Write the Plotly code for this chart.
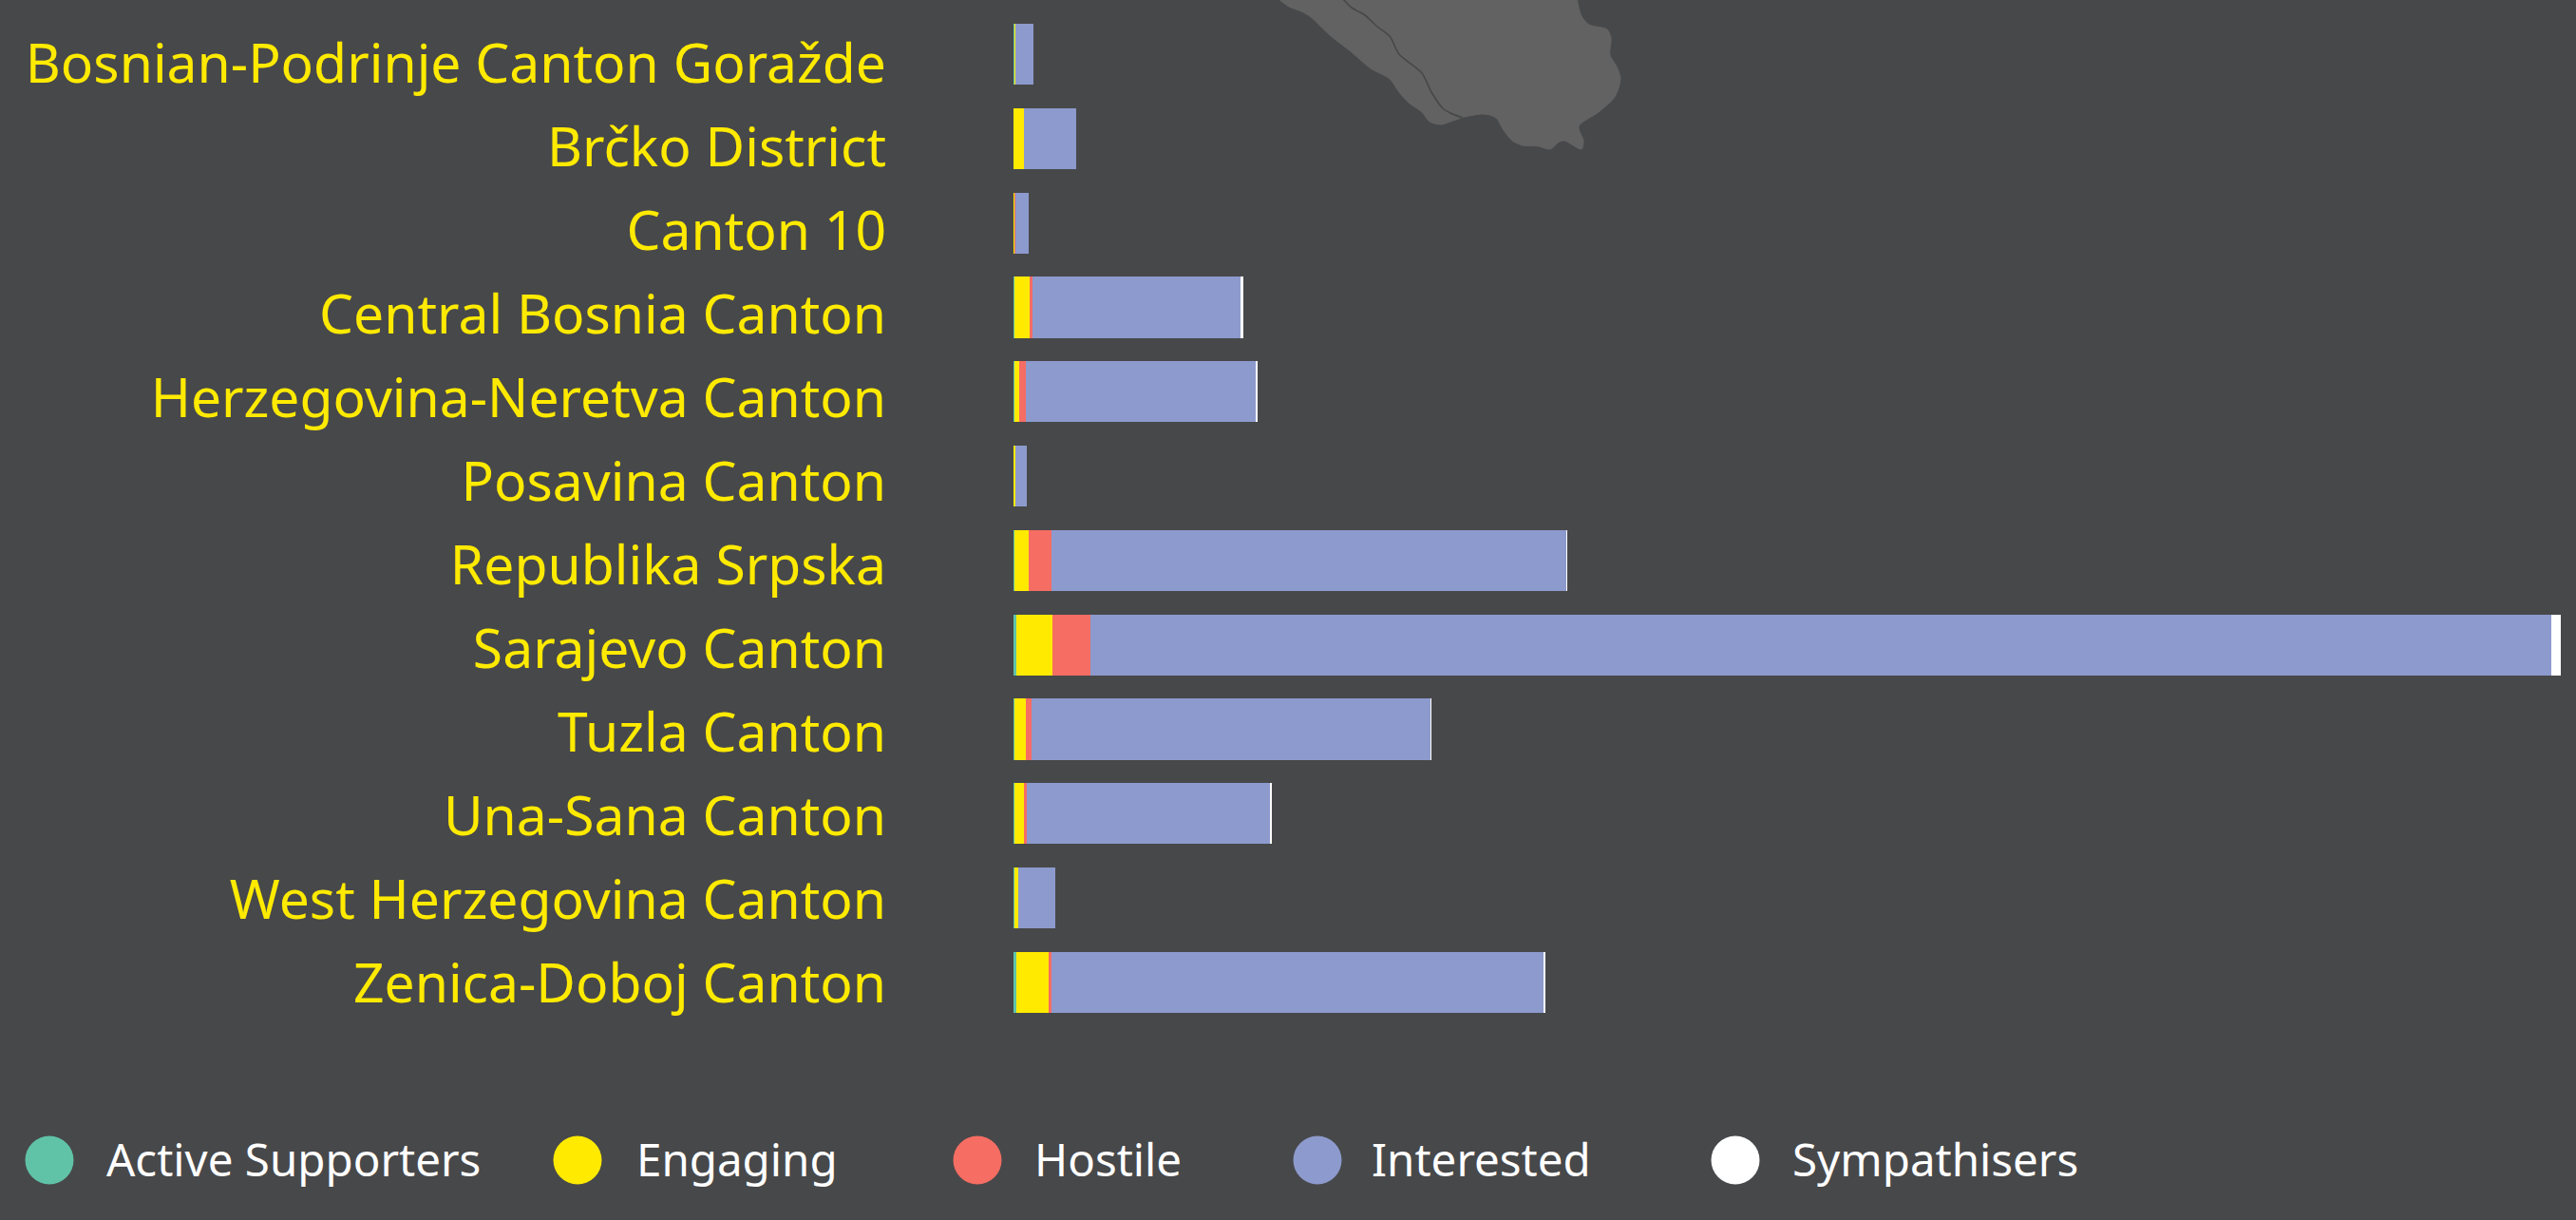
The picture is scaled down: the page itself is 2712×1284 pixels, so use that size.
import plotly.graph_objects as go

BG = "#47484a"
FONT = "Noto Sans"
categories = ["Bosnian-Podrinje Canton Goražde", "Brčko District", "Canton 10", "Central Bosnia Canton",
              "Herzegovina-Neretva Canton", "Posavina Canton", "Republika Srpska", "Sarajevo Canton",
              "Tuzla Canton", "Una-Sana Canton", "West Herzegovina Canton", "Zenica-Doboj Canton"]
active = [1.0, 0.2, 0, 1.0, 0.8, 0, 0.9, 2.5, 1.0, 0.8, 1.0, 2.5]
engaging = [1.0, 10.9, 1.6, 16.2, 5.2, 1.6, 14.9, 38.4, 12.2, 10.1, 4.0, 34.8]
hostile = [0, 0, 0.8, 2.7, 7.2, 0, 24.1, 40.1, 5.3, 3.1, 0, 2.7]
interested = [19.2, 54.8, 13.5, 219.1, 241.8, 12.7, 542.1, 1538, 420.5, 256.0, 38.7, 518.7]
sympathisers = [0, 0, 0, 3.2, 2.0, 0, 1.0, 10.0, 1.0, 2.0, 0, 1.3]

series_names = ["Active Supporters", "Engaging", "Hostile", "Interested", "Sympathisers"]
series_values = [active, engaging, hostile, interested, sympathisers]
series_colors = ["#60c3a8", "#ffea00", "#f56d63", "#8d9acd", "#ffffff"]

legend_marker_x = [52, 608, 1029, 1387, 1827]
legend_text_x = [110, 668, 1087, 1442, 1885]
legend_y = 1219

map_x = [1345, 1357, 1370, 1380, 1400, 1423, 1443, 1463, 1473, 1483, 1497, 1505, 1517, 1530, 1542, 1563, 1575, 1583,
         1592, 1603, 1620, 1632, 1642, 1647, 1665, 1667, 1662, 1683, 1700, 1706, 1702, 1695, 1696, 1692, 1673, 1665, 1660]
map_y = [-2, 7, 12, 18, 37, 55, 72, 83, 97, 108, 118, 128, 131, 127, 123, 120, 124, 137, 148, 153, 154, 157, 149,
         148, 157, 148, 133, 118, 102, 83, 70, 58, 40, 31, 26, 17, -2]
line_x = [1413, 1423, 1437, 1450, 1463, 1473, 1497, 1507, 1520, 1540]
line_y = [-2, 8, 16, 28, 38, 57, 77, 97, 115, 124]

fig = go.Figure()
over = dict(xaxis="x2", yaxis="y2", showlegend=False, hoverinfo="skip")
fig.add_trace(go.Scatter(x=map_x, y=map_y, mode="lines", fill="toself", fillcolor="#626262",
                         line=dict(color="#626262", width=1, shape="spline", smoothing=0.8), **over))
fig.add_trace(go.Scatter(x=line_x, y=line_y, mode="lines",
                         line=dict(color="#47484a", width=1.6, shape="spline", smoothing=0.8), **over))
fig.add_trace(go.Scatter(x=legend_marker_x, y=[legend_y + 2] * 5, mode="markers",
                         marker=dict(size=51, color=series_colors, line_width=0), **over))

for name, vals, col in zip(series_names, series_values, series_colors):
    fig.add_trace(go.Bar(y=categories, x=vals, name=name, orientation="h", marker=dict(color=col, line_width=0),
                         showlegend=False))
# invisible trace that carries the category labels on their own slightly tighter axis
fig.add_trace(go.Bar(y=categories, x=[0] * len(categories), yaxis="y3", showlegend=False, hoverinfo="skip",
                     marker=dict(color="rgba(0,0,0,0)", line_width=0)))

annotations = [dict(x=tx, y=legend_y, xref="x2", yref="y2", text=n, showarrow=False, xanchor="left", yanchor="middle",
                    font=dict(family=FONT, size=47.5, color="#ffffff"))
               for tx, n in zip(legend_text_x, series_names)]

fig.update_layout(
    width=2712, height=1284, autosize=False, barmode="stack", bargap=0.277,
    paper_bgcolor=BG, plot_bgcolor="rgba(0,0,0,0)", margin=dict(l=0, r=0, t=0, b=0),
    annotations=annotations, font_family=FONT,
    xaxis=dict(domain=[1067 / 2712, 1], range=[0, 1645], visible=False, fixedrange=True),
    yaxis=dict(domain=[1 - 1078.4 / 1284, 1 - 12.6 / 1284], range=[11.5, -0.5], type="category", categoryorder="array",
               categoryarray=categories, visible=False),
    yaxis3=dict(domain=[1 - 1079 / 1284, 1 - 23 / 1284], range=[11.5, -0.5], type="category", categoryorder="array",
                categoryarray=categories, anchor="x", showgrid=False, showline=False, zeroline=False, ticks="",
                ticklabelstandoff=133, tickfont=dict(family=FONT, size=57, color="#ffea00"), automargin=False),
    xaxis2=dict(domain=[0, 1], range=[0, 2712], visible=False, anchor="y2"),
    yaxis2=dict(domain=[0, 1], range=[1284, 0], visible=False, anchor="x2"),
)
fig.write_html("out.html", config={"displayModeBar": False},
               post_script="document.body.style.margin='0';document.body.style.background='#47484a';")
